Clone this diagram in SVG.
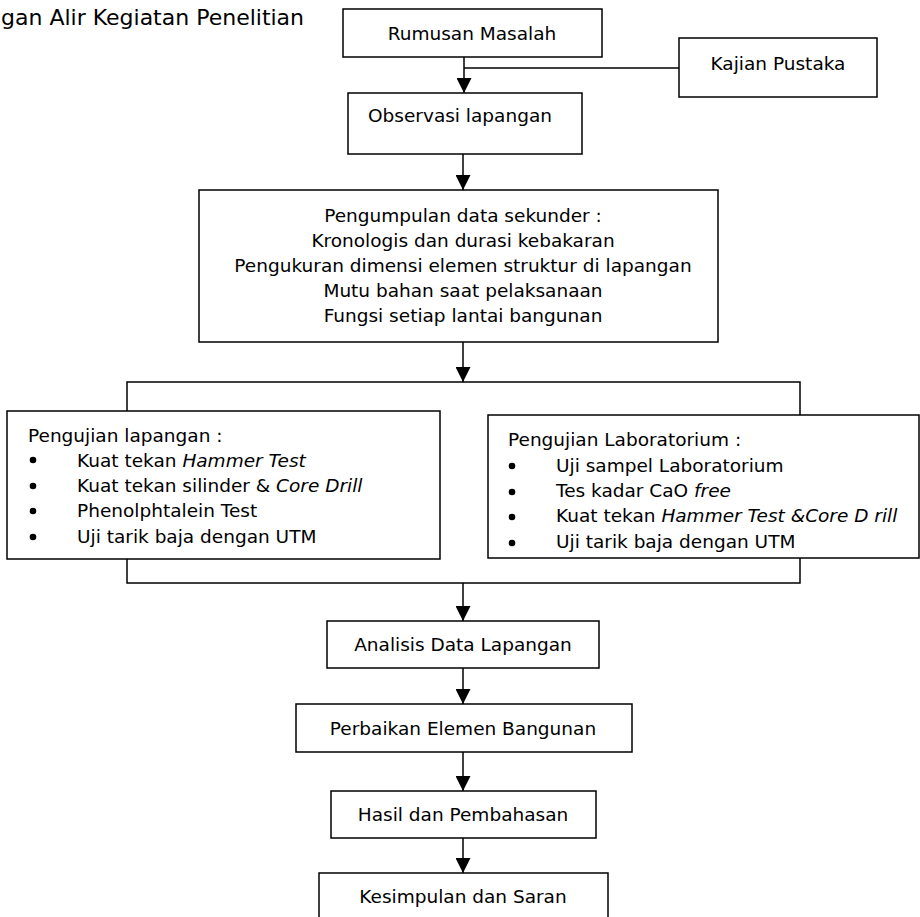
<svg xmlns="http://www.w3.org/2000/svg" width="920" height="917" viewBox="0 0 920 917">
<style>
  text { font-family: "DejaVu Sans", Verdana, sans-serif; font-size: 18.5px; fill: #000; }
  .c { text-anchor: middle; }
  .i { font-style: italic; }
  .box { fill: #fff; stroke: #000; stroke-width: 1.5; }
  .ln { fill: none; stroke: #000; stroke-width: 1.5; }
</style>
<defs>
  <marker id="arr" markerUnits="userSpaceOnUse" viewBox="0 0 15 15" refX="15" refY="7.5" markerWidth="15" markerHeight="15" orient="auto">
    <path d="M0,0 L15,7.5 L0,15 z" fill="#000"/>
  </marker>
</defs>
<rect width="920" height="917" fill="#fff"/>

<text id="title" x="1" y="25" style="font-size:22px">gan Alir Kegiatan Penelitian</text>

<g id="connectors">
  <line class="ln" x1="464" y1="57" x2="464" y2="93" marker-end="url(#arr)"/>
  <line class="ln" x1="464" y1="68" x2="679" y2="68"/>
  <line class="ln" x1="463" y1="154" x2="463" y2="190" marker-end="url(#arr)"/>
  <line class="ln" x1="463" y1="342" x2="463" y2="382" marker-end="url(#arr)"/>
  <polyline class="ln" points="127,411 127,382 800,382 800,415"/>
  <polyline class="ln" points="127,559 127,583 800,583 800,558"/>
  <line class="ln" x1="463" y1="583" x2="463" y2="621" marker-end="url(#arr)"/>
  <line class="ln" x1="463" y1="668" x2="463" y2="704" marker-end="url(#arr)"/>
  <line class="ln" x1="463" y1="752" x2="463" y2="791" marker-end="url(#arr)"/>
  <line class="ln" x1="463" y1="838" x2="463" y2="873" marker-end="url(#arr)"/>
</g>

<g id="rumusan">
  <rect class="box" x="343" y="9" width="259" height="48"/>
  <text class="c" x="472" y="40">Rumusan Masalah</text>
</g>
<g id="kajian">
  <rect class="box" x="679" y="38" width="198" height="59"/>
  <text class="c" x="778" y="70">Kajian Pustaka</text>
</g>
<g id="observasi">
  <rect class="box" x="348" y="93" width="234" height="61"/>
  <text x="368" y="122">Observasi lapangan</text>
</g>
<g id="pengumpulan">
  <rect class="box" x="199" y="190" width="519" height="152"/>
  <text class="c" x="463" y="222">Pengumpulan data sekunder :</text>
  <text class="c" x="463" y="247">Kronologis dan durasi kebakaran</text>
  <text class="c" x="463" y="272">Pengukuran dimensi elemen struktur di lapangan</text>
  <text class="c" x="463" y="297">Mutu bahan saat pelaksanaan</text>
  <text class="c" x="463" y="322">Fungsi setiap lantai bangunan</text>
</g>
<g id="lapangan">
  <rect class="box" x="7" y="411" width="433" height="148"/>
  <text x="28" y="442">Pengujian lapangan :</text>
  <circle cx="33" cy="460" r="3.3"/>
  <circle cx="33" cy="486" r="3.3"/>
  <circle cx="33" cy="511" r="3.3"/>
  <circle cx="33" cy="537" r="3.3"/>
  <text x="77" y="467">Kuat tekan <tspan class="i">Hammer Test</tspan></text>
  <text x="77" y="492">Kuat tekan silinder &amp; <tspan class="i">Core Drill</tspan></text>
  <text x="77" y="517">Phenolphtalein Test</text>
  <text x="77" y="543">Uji tarik baja dengan UTM</text>
</g>
<g id="laboratorium">
  <rect class="box" x="488" y="415" width="431" height="143"/>
  <text x="508" y="446">Pengujian Laboratorium :</text>
  <circle cx="512" cy="466" r="3.3"/>
  <circle cx="512" cy="492" r="3.3"/>
  <circle cx="512" cy="517" r="3.3"/>
  <circle cx="512" cy="543" r="3.3"/>
  <text x="556" y="472">Uji sampel Laboratorium</text>
  <text x="556" y="497">Tes kadar CaO <tspan class="i">free</tspan></text>
  <text x="556" y="522">Kuat tekan <tspan class="i">Hammer Test &amp;Core D rill</tspan></text>
  <text x="556" y="548">Uji tarik baja dengan UTM</text>
</g>
<g id="analisis">
  <rect class="box" x="327" y="621" width="272" height="47"/>
  <text class="c" x="463" y="651">Analisis Data Lapangan</text>
</g>
<g id="perbaikan">
  <rect class="box" x="296" y="704" width="336" height="48"/>
  <text class="c" x="463" y="735">Perbaikan Elemen Bangunan</text>
</g>
<g id="hasil">
  <rect class="box" x="331" y="791" width="265" height="47"/>
  <text class="c" x="463" y="821">Hasil dan Pembahasan</text>
</g>
<g id="kesimpulan">
  <rect class="box" x="319" y="873" width="289" height="60"/>
  <text class="c" x="463" y="903">Kesimpulan dan Saran</text>
</g>
</svg>
